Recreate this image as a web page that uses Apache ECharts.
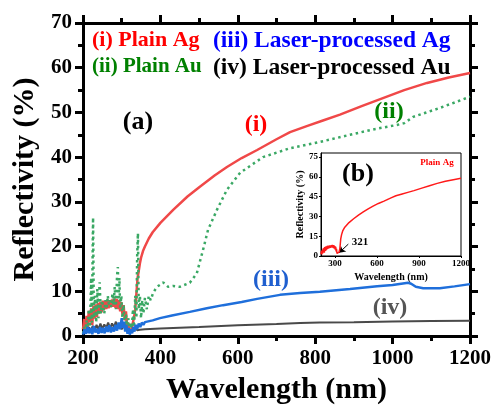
<!DOCTYPE html>
<html>
<head>
<meta charset="utf-8">
<script src="https://cdn.jsdelivr.net/npm/echarts@6/dist/echarts.min.js"></script>
<style>html,body{margin:0;padding:0;background:#fff}#c{width:495px;height:405px}</style>
</head>
<body>
<div id="c"></div>
<script>
// ---- data ----
const redX = [200,203,206,209,212,215,218,221,224,227,230,233,236,239,242,245,248,251,254,257,260,263,266,269,272,275,278,281,284,287,290,293,296,299,302,305,308,311,314,317,320,321,323,326,329,332,335,338,341,344,347,350,355,360,370,380,400,433,470,502,540,572,610,650,700,735,780,820,864,920,975,1030,1089,1145,1200];
const redY = [1.5,3.8,1.2,4.5,2.0,5.6,3.1,6.2,2.5,6.8,3.9,7.1,4.2,7.4,5.0,7.6,5.3,7.9,5.8,7.8,6.0,8.1,6.2,8.0,6.4,8.2,6.5,8.4,6.3,8.3,6.0,8.0,5.5,7.6,4.8,6.9,3.5,5.5,2.0,3.0,0.5,0.2,0.6,1.5,3.0,4.2,6.0,9.5,13.0,14.5,16.2,17.5,19.0,20.0,21.8,23.2,25.3,28.2,31.2,33.4,35.9,37.8,39.8,41.6,44.0,45.6,47.0,48.2,49.5,51.4,53.2,55.0,56.6,57.8,58.8];

const greenX = [200,203,206,209,212,215,218,221,223,226,228,231,234,237,240,243,246,249,252,255,258,261,264,267,270,273,276,279,282,285,288,290,292,294,296,299,302,305,308,311,314,317,320,323,326,329,332,335,338,340,342,344,347,350,353,356,360,365,370,375,381,391,400,407,420,433,450,476,494,510,523,546,572,606,665,735,812,890,950,1011,1030,1053,1122,1200];
const greenY = [0.5,2.0,0.8,3.5,1.0,6.0,2.0,13.0,3.0,26.5,4.0,9.0,3.0,10.5,4.0,12.0,5.0,8.0,6.5,5.0,8.0,6.0,9.0,7.0,8.0,6.5,9.5,7.0,11.0,6.0,13.5,15.4,8.0,13.0,6.0,9.0,4.0,7.0,2.0,5.0,1.0,4.0,0.5,3.0,1.0,6.0,2.0,9.0,4.0,18.0,23.0,6.0,9.0,4.0,8.0,5.0,8.5,6.0,9.0,8.0,9.6,11.0,11.5,12.0,11.0,11.2,11.0,11.9,14.0,19.2,23.7,28.2,32.7,36.5,40.0,42.0,43.4,45.0,46.2,47.2,47.6,49.0,51.0,53.5];

const blueX = [200,204,208,212,216,220,224,228,232,236,240,244,248,252,256,260,264,268,272,276,280,284,288,292,296,300,303,306,309,312,315,318,321,324,327,330,333,336,340,344,348,352,356,360,365,380,399,430,476,520,562,610,650,709,761,812,890,960,1000,1040,1048,1060,1079,1122,1160,1200];
const blueY = [0.3,1.5,0.5,2.0,0.6,1.8,0.4,2.2,0.8,1.6,0.5,2.0,0.7,1.8,0.6,2.1,0.9,2.4,0.8,2.0,1.0,2.5,1.2,3.0,1.5,4.0,1.8,3.2,1.0,2.5,0.5,1.8,0.3,1.5,0.6,2.0,1.0,2.5,1.5,2.8,2.0,3.0,2.5,3.1,2.9,3.5,4.0,4.6,5.4,6.2,6.9,7.6,8.3,9.2,9.6,9.9,10.5,11.1,11.4,11.9,11.7,11.0,10.7,10.7,11.1,11.6];

const grayX = [200,205,210,215,220,225,230,235,240,245,250,255,260,265,270,275,280,285,290,295,300,305,310,315,320,325,330,335,340,347,360,400,433,500,600,700,761,812,900,1000,1100,1200];
const grayY = [0.5,1.5,0.8,2.0,1.0,2.3,1.2,2.5,1.5,2.8,1.6,2.6,1.8,3.0,1.7,2.8,2.0,3.2,1.8,2.7,1.5,2.4,1.2,2.0,0.8,1.6,1.0,1.8,1.3,1.4,1.5,1.7,1.8,2.0,2.4,2.7,2.9,3.0,3.1,3.25,3.35,3.4];

const insetXTicks = [300,600,900,1200];
const insetYTicks = [0,15,30,45,60,75];

const legendRows = [
  ['(i) Plain Ag', '#ff0000', '(iii) Laser-processed Ag', '#0000ff'],
  ['(ii) Plain Au', '#008000', '(iv) Laser-processed Au', '#000000']
];

// ---- helpers ----
const zip = (xs, ys) => xs.map((x, i) => [x, ys[i]]);
const F = 'Liberation Serif, Times New Roman, serif';
const plain = v => String(v);

function mainAxis(extra) {
  return Object.assign({
    type: 'value',
    axisLine: { show: true, lineStyle: { color: '#000', width: 3 } },
    axisTick: { show: true, length: 8, lineStyle: { color: '#000', width: 3 } },
    minorTick: { show: true, splitNumber: 2, length: 5, lineStyle: { color: '#000', width: 3 } },
    splitLine: { show: false }
  }, extra);
}

const chart = echarts.init(document.getElementById('c'));
chart.setOption({
  animation: false,
  backgroundColor: '#fff',
  grid: [
    { left: 83, top: 23, width: 387, height: 313, outerBoundsMode: 'none' },
    { left: 321, top: 153, width: 140, height: 103, outerBoundsMode: 'none',
      show: true, borderColor: '#000', borderWidth: 1, backgroundColor: '#fff', z: 5 }
  ],
  xAxis: [
    mainAxis({
      gridIndex: 0, min: 200, max: 1200, interval: 200,
      axisLabel: { formatter: plain, fontFamily: F, fontWeight: 'bold', fontSize: 21, color: '#000', margin: 12 },
      name: 'Wavelength (nm)', nameLocation: 'middle', nameGap: 39,
      nameTextStyle: { fontFamily: F, fontWeight: 'bold', fontSize: 30, color: '#000' }
    }),
    mainAxis({
      gridIndex: 0, position: 'top', min: 200, max: 1200, interval: 200,
      axisLine: { show: true, onZero: false, lineStyle: { color: '#000', width: 3 } },
      axisLabel: { show: false }
    }),
    {
      type: 'value', gridIndex: 1, min: 200, max: 1200, z: 6,
      axisLine: { show: true, lineStyle: { color: '#000', width: 1 } },
      axisTick: { show: true, length: 2, customValues: insetXTicks, lineStyle: { color: '#000' } },
      axisLabel: { customValues: insetXTicks, formatter: plain, fontFamily: F, fontWeight: 'bold', fontSize: 9, color: '#000', margin: 3 },
      splitLine: { show: false },
      name: 'Wavelength (nm)', nameLocation: 'middle', nameGap: 16,
      nameTextStyle: { fontFamily: F, fontWeight: 'bold', fontSize: 10, color: '#000' }
    }
  ],
  yAxis: [
    mainAxis({
      gridIndex: 0, min: 0, max: 70, interval: 10,
      axisLabel: { formatter: plain, fontFamily: F, fontWeight: 'bold', fontSize: 21, color: '#000', margin: 11 },
      name: 'Reflectivity (%)', nameLocation: 'middle', nameGap: 40,
      nameTextStyle: { fontFamily: F, fontWeight: 'bold', fontSize: 30, color: '#000' }
    }),
    mainAxis({
      gridIndex: 0, position: 'right', min: 0, max: 70, interval: 10,
      axisLine: { show: true, onZero: false, lineStyle: { color: '#000', width: 3 } },
      axisLabel: { show: false }
    }),
    {
      type: 'value', gridIndex: 1, min: 0, max: 78, z: 6,
      axisLine: { show: true, lineStyle: { color: '#000', width: 1 } },
      axisTick: { show: true, length: 2, customValues: insetYTicks, lineStyle: { color: '#000' } },
      axisLabel: { customValues: insetYTicks, formatter: plain, fontFamily: F, fontWeight: 'bold', fontSize: 9, color: '#000', margin: 3 },
      splitLine: { show: false },
      name: 'Reflectivity (%)', nameLocation: 'middle', nameGap: 15,
      nameTextStyle: { fontFamily: F, fontWeight: 'bold', fontSize: 10, color: '#000' }
    }
  ],
  series: [
    { type: 'line', name: 'iv', xAxisIndex: 0, yAxisIndex: 0, data: zip(grayX, grayY), showSymbol: false, symbol: 'none',
      lineStyle: { color: '#4a4a4a', width: 2 }, z: 2 },
    { type: 'line', name: 'i', xAxisIndex: 0, yAxisIndex: 0, data: zip(redX, redY), showSymbol: false, symbol: 'none',
      lineStyle: { color: '#f04848', width: 2.5 }, z: 3 },
    { type: 'line', name: 'ii', xAxisIndex: 0, yAxisIndex: 0, data: zip(greenX, greenY), showSymbol: false, symbol: 'none',
      lineStyle: { color: '#3aa864', width: 2.5, type: [2.5, 3.5] }, z: 4 },
    { type: 'line', name: 'iii', xAxisIndex: 0, yAxisIndex: 0, data: zip(blueX, blueY), showSymbol: false, symbol: 'none',
      lineStyle: { color: '#1f6fdb', width: 2.5 }, z: 4 },
    { type: 'line', name: 'inset', xAxisIndex: 2, yAxisIndex: 2, data: zip(redX, redY), showSymbol: false, symbol: 'none',
      lineStyle: { color: '#ff1a1a', width: 1.5 }, z: 7,
      markLine: { silent: true, symbol: ['arrow', 'none'], symbolSize: 6, label: { show: false },
        lineStyle: { color: '#000', width: 1, type: 'solid' },
        data: [[{ coord: [330, 2.5] }, { coord: [395, 9] }]] } }
  ],
  graphic: [
    { type: 'text', left: 92, top: 29, z: 10, style: { text: legendRows[0][0], fill: legendRows[0][1], font: 'bold 22px ' + F } },
    { type: 'text', left: 213, top: 29, z: 10, style: { text: legendRows[0][2], fill: legendRows[0][3], font: 'bold 23.5px ' + F } },
    { type: 'text', left: 92, top: 56, z: 10, style: { text: legendRows[1][0], fill: legendRows[1][1], font: 'bold 21px ' + F } },
    { type: 'text', left: 213, top: 56, z: 10, style: { text: legendRows[1][2], fill: legendRows[1][3], font: 'bold 23.5px ' + F } },
    { type: 'text', x: 138, y: 122, z: 10, style: { text: '(a)', fill: '#000', font: 'bold 26px ' + F, align: 'center', verticalAlign: 'middle' } },
    { type: 'text', x: 256, y: 125, z: 10, style: { text: '(i)', fill: '#ff0000', font: 'bold 24px ' + F, align: 'center', verticalAlign: 'middle' } },
    { type: 'text', x: 389, y: 112, z: 10, style: { text: '(ii)', fill: '#008000', font: 'bold 24px ' + F, align: 'center', verticalAlign: 'middle' } },
    { type: 'text', x: 271, y: 280, z: 10, style: { text: '(iii)', fill: '#1f5fcf', font: 'bold 24px ' + F, align: 'center', verticalAlign: 'middle' } },
    { type: 'text', x: 390, y: 308, z: 10, style: { text: '(iv)', fill: '#555555', font: 'bold 24px ' + F, align: 'center', verticalAlign: 'middle' } },
    { type: 'text', x: 358, y: 174, z: 10, style: { text: '(b)', fill: '#000', font: 'bold 26px ' + F, align: 'center', verticalAlign: 'middle' } },
    { type: 'text', x: 437, y: 163, z: 10, style: { text: 'Plain Ag', fill: '#ff0000', font: 'bold 9px ' + F, align: 'center', verticalAlign: 'middle' } },
    { type: 'text', x: 360, y: 242, z: 10, style: { text: '321', fill: '#000', font: 'bold 11px ' + F, align: 'center', verticalAlign: 'middle' } }
  ]
});
</script>
</body>
</html>
